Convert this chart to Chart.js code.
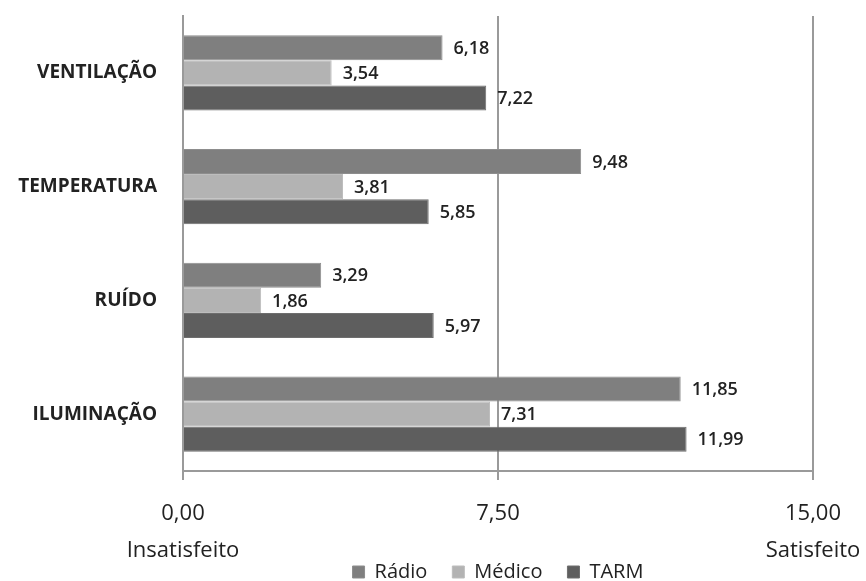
<!DOCTYPE html>
<html lang="pt">
<head>
<meta charset="utf-8">
<title>Satisfação com as condições ambientais</title>
<script src="https://cdn.jsdelivr.net/npm/chart.js@4.4.1/dist/chart.umd.min.js"></script>
<style>
  html, body { margin: 0; padding: 0; background: #ffffff; }
  #wrap { width: 866px; height: 581px; }
</style>
</head>
<body>
<div id="wrap"><canvas id="chart" width="866" height="581"></canvas></div>
<script>
// Categories (vertical axis) and per-group scores
const categories = ['VENTILAÇÃO', 'TEMPERATURA', 'RUÍDO', 'ILUMINAÇÃO'];
const radio  = [6.18, 9.48, 3.29, 11.85];
const medico = [3.54, 3.81, 1.86, 7.31];
const tarm   = [7.22, 5.85, 5.97, 11.99];
const seriesNames = ['Rádio', 'Médico', 'TARM'];

// Horizontal scale: tick values, their labels and the end captions
const xTickValues = [0, 7.5, 15];
const xTickLabels = ['0,00', '7,50', '15,00'];
const xEndLabels  = ['Insatisfeito', '', 'Satisfeito'];

const FONT = "'Open Sans', 'Noto Sans', 'DejaVu Sans', sans-serif";
const TEXT = '#222222';
const AXIS = '#9a9a9a';

const fmt = v => v.toFixed(2).replace('.', ',');

// Value written just past the end of each bar
const valueLabels = {
  id: 'valueLabels',
  afterDatasetsDraw(chart) {
    const ctx = chart.ctx;
    ctx.save();
    ctx.font = '600 18px ' + FONT;
    ctx.fillStyle = TEXT;
    ctx.textAlign = 'left';
    ctx.textBaseline = 'middle';
    chart.data.datasets.forEach((ds, di) => {
      const meta = chart.getDatasetMeta(di);
      meta.data.forEach((bar, i) => {
        ctx.fillText(fmt(ds.data[i]), bar.x + 11, bar.y + 1);
      });
    });
    ctx.restore();
  }
};

// Legend sits under the plot, centred on it, overlapping the caption row;
// the x scale box is stretched to the canvas bottom so both caption lines show
const legendPlacement = {
  id: 'legendPlacement',
  afterLayout(chart) {
    const area = chart.chartArea;
    const xs = chart.scales.x;
    xs.bottom = chart.height;
    xs.height = xs.bottom - xs.top;

    const lg = chart.legend;
    if (!lg) return;
    const pad = lg.options.labels.padding;
    const fs = lg.options.labels.font.size;
    const top = 572 - pad - fs / 2;
    const h = lg.height;
    lg.left = area.left;
    lg.right = area.right;
    lg.top = top;
    lg.bottom = top + h;
  }
};

new Chart(document.getElementById('chart'), {
  type: 'bar',
  data: {
    labels: categories,
    datasets: [
      { label: seriesNames[0], data: radio,  backgroundColor: '#7f7f7f', borderColor: '#8d8d8d', borderWidth: 1 },
      { label: seriesNames[1], data: medico, backgroundColor: '#b3b3b3', borderColor: '#bdbdbd', borderWidth: 1 },
      { label: seriesNames[2], data: tarm,   backgroundColor: '#5e5e5e', borderColor: '#6e6e6e', borderWidth: 1 }
    ]
  },
  options: {
    indexAxis: 'y',
    responsive: false,
    animation: false,
    devicePixelRatio: 1,
    layout: { padding: { top: 16, right: 53, left: 0, bottom: 0 } },
    datasets: {
      bar: { categoryPercentage: 0.66, barPercentage: 1.0 }
    },
    scales: {
      x: {
        type: 'linear',
        min: 0,
        max: 15,
        afterBuildTicks(scale) {
          scale.ticks = xTickValues.map(v => ({ value: v }));
        },
        afterFit(scale) {
          scale.paddingLeft = 0;
          scale.paddingRight = 0;
          const lg = scale.chart.legend;
          scale.height = scale.chart.height - 471 - (lg ? lg.height : 0);
        },
        grid: {
          display: true,
          drawOnChartArea: true,
          drawTicks: true,
          tickLength: 9,
          color: AXIS,
          lineWidth: 2
        },
        border: { display: true, color: AXIS, width: 2 },
        ticks: {
          autoSkip: false,
          maxRotation: 0,
          padding: 15,
          color: TEXT,
          font: { family: FONT, size: 22, lineHeight: '37px' },
          callback(value, index) {
            return [xTickLabels[index], xEndLabels[index]];
          }
        }
      },
      y: {
        type: 'category',
        afterFit(scale) {
          scale.width = 183;
          scale.paddingTop = 0;
          scale.paddingBottom = 0;
        },
        grid: { display: false, drawTicks: false },
        border: { display: true, color: AXIS, width: 2 },
        ticks: {
          padding: 26,
          color: TEXT,
          font: { family: FONT, size: 19, weight: 'bold' }
        }
      }
    },
    plugins: {
      legend: {
        position: 'bottom',
        align: 'center',
        labels: {
          boxWidth: 12,
          boxHeight: 12,
          padding: 25,
          color: TEXT,
          font: { family: FONT, size: 20 }
        }
      },
      tooltip: { enabled: false },
      title: { display: false }
    }
  },
  plugins: [valueLabels, legendPlacement]
});
</script>
</body>
</html>
